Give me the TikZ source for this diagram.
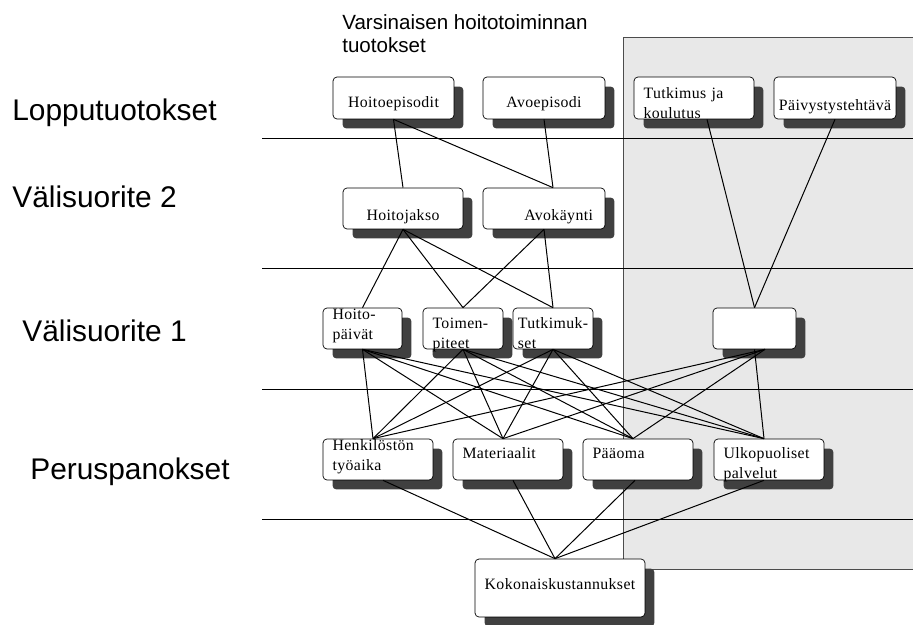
\documentclass[tikz,border=0pt]{standalone}
\usepackage{fontspec}
\usetikzlibrary{calc,shadows}
\newfontfamily\boxfont[LetterSpace=2.5]{Liberation Serif}
\newfontfamily\labelfont{Liberation Sans}
\definecolor{panelgray}{RGB}{232,232,232}
\definecolor{shadowgray}{RGB}{64,64,64}
\tikzstyle{connector} = [line width=0.2mm]
\tikzstyle{levelline} = [line width=0.2mm]
\tikzstyle{box} = [draw, fill=white, rounded corners=0.08cm, inner xsep=0.19cm, inner ysep=0pt, minimum height=0.82cm, font=\boxfont\fontsize{9}{11.5}\selectfont, drop shadow={shadow xshift=0.19cm, shadow yshift=-0.19cm, fill=shadowgray, opacity=1}]
\tikzstyle{rowlabel} = [anchor=base west, inner sep=0pt, font=\labelfont\fontsize{17}{20}\selectfont]

\begin{document}
\begin{tikzpicture}[x=0.02cm, y=-0.02cm]
\useasboundingbox (0,0) rectangle (913,625);
% harmaa alue ja tasoviivat
\fill [panelgray] (623,37) rectangle (913,569);
\draw [line width=0.15mm, black!70] (913,37) -- (623,37) -- (623,569) -- (913,569);
\draw [levelline] (262,139) -- (913,139);
\draw [levelline] (262,268) -- (913,268);
\draw [levelline] (262,389) -- (913,389);
\draw [levelline] (262,519) -- (913,519);

\node (otsikko) [anchor=north west, inner sep=0pt, align=left, font=\labelfont\fontsize{11.7}{13.1}\selectfont] at (342,14) {Varsinaisen hoitotoiminnan\\tuotokset};
\node (lopputuot) [rowlabel] at (12,121) {Lopputuotokset};
\node (valisuor2) [rowlabel] at (12,207) {Välisuorite 2};
\node (valisuor1) [rowlabel] at (22,341) {Välisuorite 1};
\node (peruspan) [rowlabel] at (30,479) {Peruspanokset};

% lopputuotokset
\node (hoitoep) [box, minimum height=0.84cm, text width=2.04cm, align=center, text height=10.6pt, text depth=0pt] at (393.5,98) {Hoitoepisodit};
\node (avoep) [box, minimum height=0.84cm, text width=2.06cm, align=center, text height=10.6pt, text depth=0pt] at (544,98) {Avoepisodi};
\node (tutk) [box, minimum height=0.84cm, text width=2.02cm, align=left, text height=6pt, text depth=5.8pt] at (694,98) {Tutkimus ja\\koulutus};
\node (paivys) [box, minimum height=0.84cm, inner xsep=0.02cm, text width=2.4cm, align=center, text height=14pt, text depth=0pt] at (835,98) {Päivystystehtävä};

% valisuorite 2
\node (hoitojakso) [box, text width=2.02cm, align=center, text height=13.4pt, text depth=0pt] at (403,208.5) {Hoitojakso};
\node (avok) [box, inner xsep=0.24cm, text width=1.96cm, align=right, text height=13.4pt, text depth=0pt] at (544,208.5) {Avokäynti};

% valisuorite 1
\node (hoitopaiv) [box, text width=1.2cm, align=left, text height=6pt, text depth=16.6pt] at (362.5,328.5) {Hoito-\\päivät};
\node (toimen) [box, text width=1.22cm, align=left, text height=6pt, text depth=6.4pt] at (463,328.5) {Toimen-\\piteet};
\node (tutkimuk) [box, inner xsep=0pt, minimum width=1.6cm, align=left, text height=22.6pt, text depth=0pt] at (553,328.5) {Tutkimuk-\\set};
\node (tyhja) [box, text width=1.28cm] at (754.5,328.5) {};

% peruspanokset
\node (henk) [box, text width=1.82cm, align=left, text height=6pt, text depth=16.6pt] at (378,459.5) {Henkilöstön\\työaika};
\node (mater) [box, text width=1.82cm, align=left, text height=0pt, text depth=1.4pt] at (508,459.5) {Materiaalit};
\node (paaoma) [box, text width=1.82cm, align=left, text height=0pt, text depth=1.4pt] at (638,459.5) {Pääoma};
\node (ulko) [box, text width=1.82cm, align=left, text height=6pt, text depth=7.5pt] at (769,459.5) {Ulkopuoliset\\palvelut};

\node (koko) [box, minimum height=1.16cm, text width=3.02cm, align=center, text height=1.4pt, text depth=0pt] at (560,588) {Kokonaiskustannukset};

% yhteydet
\draw [connector] (hoitoep.south) -- (hoitojakso.north);
\draw [connector] (hoitoep.south) -- ([xshift=0.18cm]avok.north);
\draw [connector] (avoep.south) -- ([xshift=0.18cm]avok.north);
\draw [connector] ([xshift=0.26cm]tutk.south) -- (tyhja.north);
\draw [connector] (paivys.south) -- (tyhja.north);

\draw [connector] (hoitojakso.south) -- (hoitopaiv.north);
\draw [connector] (hoitojakso.south) -- (toimen.north);
\draw [connector] (hoitojakso.south) -- (tutkimuk.north);
\draw [connector] (avok.south) -- (toimen.north);
\draw [connector] (avok.south) -- (tutkimuk.north);

\draw [connector] (hoitopaiv.south) -- ([xshift=-0.1cm]henk.north);
\draw [connector] (hoitopaiv.south) -- ([xshift=-0.1cm]mater.north);
\draw [connector] (hoitopaiv.south) -- ([xshift=-0.1cm]paaoma.north);
\draw [connector] (hoitopaiv.south) -- ([xshift=-0.1cm]ulko.north);
\draw [connector] (toimen.south) -- ([xshift=-0.1cm]henk.north);
\draw [connector] (toimen.south) -- ([xshift=-0.1cm]mater.north);
\draw [connector] (toimen.south) -- ([xshift=-0.1cm]paaoma.north);
\draw [connector] (toimen.south) -- ([xshift=-0.1cm]ulko.north);
\draw [connector] (tutkimuk.south) -- ([xshift=-0.1cm]henk.north);
\draw [connector] (tutkimuk.south) -- ([xshift=-0.1cm]mater.north);
\draw [connector] (tutkimuk.south) -- ([xshift=-0.1cm]paaoma.north);
\draw [connector] (tutkimuk.south) -- ([xshift=-0.1cm]ulko.north);
\draw [connector] ([xshift=0.21cm]tyhja.south) -- ([xshift=-0.1cm]henk.north);
\draw [connector] ([xshift=0.21cm]tyhja.south) -- ([xshift=-0.1cm]mater.north);
\draw [connector] ([xshift=0.21cm]tyhja.south) -- ([xshift=-0.1cm]paaoma.north);
\draw [connector] (tyhja.south) -- ([xshift=-0.1cm]ulko.north);

\draw [connector] ([xshift=0.1cm]henk.south) -- ([xshift=-0.1cm]koko.north);
\draw [connector] ([xshift=0.1cm]mater.south) -- ([xshift=-0.1cm]koko.north);
\draw [connector] ([xshift=-0.06cm]paaoma.south) -- ([xshift=-0.1cm]koko.north);
\draw [connector] ([xshift=-0.1cm]ulko.south) -- ([xshift=-0.1cm]koko.north);
\end{tikzpicture}
\end{document}
